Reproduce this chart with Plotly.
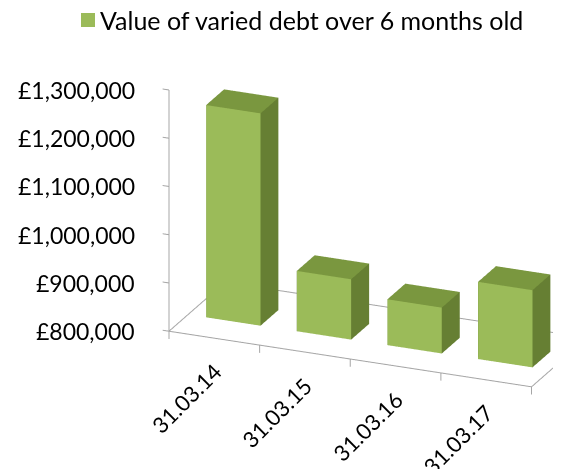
import plotly.graph_objects as go

categories = ["31.03.14", "31.03.15", "31.03.16", "31.03.17"]
values = [1240000, 925000, 895000, 960000]
series_name = "Value of varied debt over 6 months old"
value_ticks = [800000, 900000, 1000000, 1100000, 1200000, 1300000]
tick_labels = ["£{:,}".format(v) for v in value_ticks]

BASE = value_ticks[0]
TOP = value_ticks[-1]
HALF_W = 0.3
D0, D1 = 0.34, 0.66

FRONT = "#9BBB59"
TOPC = "#7A973F"
SIDE = "#667F33"
LINE = "#A6A6A6"
W, H = 561, 469

xs, ys, zs, ii, jj, kk, fc = [], [], [], [], [], [], []
for idx, v in enumerate(values):
    x0, x1 = idx - HALF_W, idx + HALF_W
    z0, z1 = BASE, v
    base = len(xs)
    verts = [(x0, D0, z0), (x1, D0, z0), (x1, D1, z0), (x0, D1, z0),
             (x0, D0, z1), (x1, D0, z1), (x1, D1, z1), (x0, D1, z1)]
    for p in verts:
        xs.append(p[0]); ys.append(p[1]); zs.append(p[2])
    faces = [((0, 1, 5), FRONT), ((0, 5, 4), FRONT),
             ((3, 2, 6), SIDE), ((3, 6, 7), SIDE),
             ((0, 3, 7), SIDE), ((0, 7, 4), SIDE),
             ((1, 2, 6), SIDE), ((1, 6, 5), SIDE),
             ((0, 1, 2), SIDE), ((0, 2, 3), SIDE),
             ((4, 5, 6), TOPC), ((4, 6, 7), TOPC)]
    for (a, b, c), col in faces:
        ii.append(base + a); jj.append(base + b); kk.append(base + c); fc.append(col)

fig = go.Figure()
fig.add_trace(go.Mesh3d(x=xs, y=ys, z=zs, i=ii, j=jj, k=kk, facecolor=fc,
                        flatshading=True, name=series_name, hoverinfo="skip",
                        lighting=dict(ambient=1, diffuse=0, specular=0, fresnel=0, roughness=1)))

n = len(categories)
xl, xr = -0.5, n - 0.5
lx = [xl, xr, xr, xl, xl, None, xl, xl]
ly = [0, 0, 1, 1, 0, None, 0, 0]
lz = [BASE, BASE, BASE, BASE, BASE, None, BASE, TOP]
for t in value_ticks:
    lx += [None, xl, xl - 0.07]; ly += [None, 0, 0]; lz += [None, t, t]
for b in range(n + 1):
    lx += [None, xl + b, xl + b]; ly += [None, 0, 0]; lz += [None, BASE, BASE - 16000]
fig.add_trace(go.Scatter3d(x=lx, y=ly, z=lz, mode="lines", line=dict(color=LINE, width=2),
                           showlegend=False, hoverinfo="skip"))

annots = []
for t, lab in zip(value_ticks, tick_labels):
    annots.append(dict(x=xl, y=0, z=t, text=lab, showarrow=False, xanchor="right",
                       xshift=-32, font=dict(family="Lato", size=23, color="#000000")))
for idx, c in enumerate(categories):
    annots.append(dict(x=idx, y=0, z=BASE, text=c, showarrow=False, textangle=-45,
                       xanchor="right", yanchor="top", xshift=15, yshift=-17,
                       font=dict(family="Lato", size=22, color="#000000")))

ax_off = dict(visible=False, showgrid=False, showbackground=False, zeroline=False,
              showticklabels=False, showspikes=False, title="")
fig.update_layout(
    width=W, height=H, margin=dict(l=0, r=0, t=0, b=0),
    paper_bgcolor="white", showlegend=False,
    scene=dict(
        domain=dict(x=[0.0, 1.0], y=[0.0, 1.0]),
        xaxis=dict(ax_off, range=[xl - 0.15, xr + 0.05]),
        yaxis=dict(ax_off, range=[-0.05, 1.05]),
        zaxis=dict(ax_off, range=[BASE - 30000, TOP + 10000]),
        aspectmode="manual", aspectratio=dict(x=1.76, y=0.68, z=1.194),
        camera=dict(eye=dict(x=0.131, y=-1.254, z=0.363),
                    center=dict(x=-0.394, y=0, z=-0.172),
                    up=dict(x=0, y=0, z=1), projection=dict(type="orthographic")),
        annotations=annots,
    ),
    shapes=[dict(type="rect", xref="paper", yref="paper",
                 x0=73 / W, x1=87 / W, y0=1 - 19 / H, y1=1 - 5 / H,
                 fillcolor=FRONT, line=dict(width=0))],
    annotations=[dict(xref="paper", yref="paper", x=90 / W, y=1 - 12 / H, text=series_name,
                      showarrow=False, xanchor="left", yanchor="middle",
                      font=dict(family="Lato", size=25, color="#000000"))],
)
fig.write_html("out.html")
